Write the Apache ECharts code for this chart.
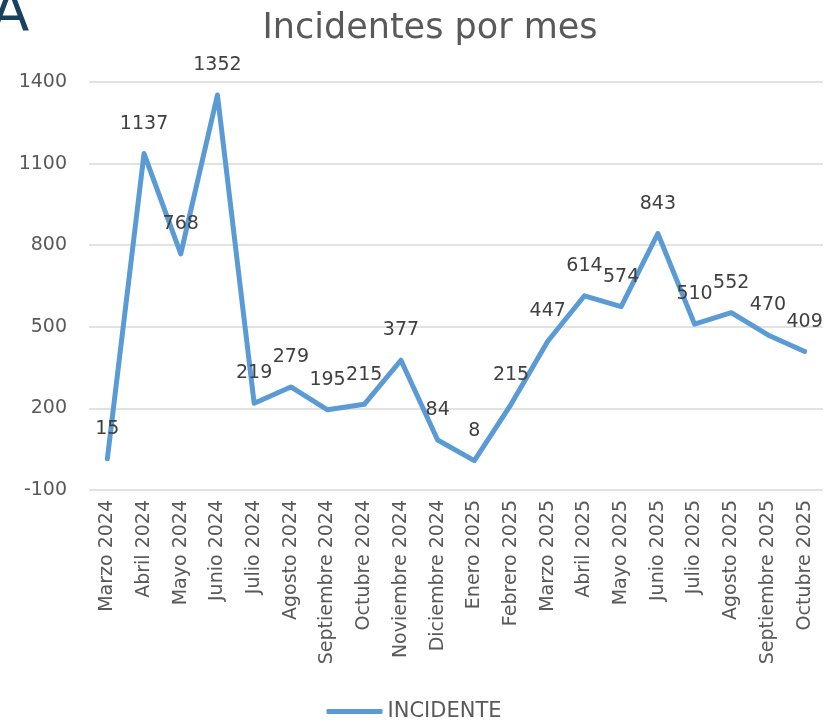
<!DOCTYPE html>
<html>
<head>
<meta charset="utf-8">
<script src="https://cdn.jsdelivr.net/npm/echarts@6/dist/echarts.min.js"></script>
<style>
  html, body { margin: 0; padding: 0; background: #fff; }
  #chart { width: 828px; height: 722px; }
</style>
</head>
<body>
<div id="chart"></div>
<script>
// Monthly incident counts
const months = [
  'Marzo 2024', 'Abril 2024', 'Mayo 2024', 'Junio 2024', 'Julio 2024',
  'Agosto 2024', 'Septiembre 2024', 'Octubre 2024', 'Noviembre 2024', 'Diciembre 2024',
  'Enero 2025', 'Febrero 2025', 'Marzo 2025', 'Abril 2025', 'Mayo 2025',
  'Junio 2025', 'Julio 2025', 'Agosto 2025', 'Septiembre 2025', 'Octubre 2025'
];
const incidentes = [15, 1137, 768, 1352, 219, 279, 195, 215, 377, 84, 8, 215, 447, 614, 574, 843, 510, 552, 470, 409];
const yMin = -100;
const yMax = 1400;
const yStep = 300;

const FONT = 'DejaVu Sans';
const GREY = '#595959';
const BLUE = '#5b9bd5';

const chart = echarts.init(document.getElementById('chart'), null, { renderer: 'canvas' });
chart.setOption({
  animation: false,
  backgroundColor: '#ffffff',
  title: {
    text: 'Incidentes por mes',
    left: 425,
    textAlign: 'center',
    top: 6,
    textStyle: { fontFamily: FONT, fontSize: 35, fontWeight: 'normal', color: GREY }
  },
  graphic: [{
    type: 'text',
    left: -9,
    top: -13,
    style: { text: 'A', font: '56px "DejaVu Sans"', fill: '#17415f' }
  }],
  legend: {
    bottom: -5,
    left: 'center',
    icon: 'roundRect',
    itemWidth: 56,
    itemHeight: 5,
    itemGap: 4,
    itemStyle: { color: BLUE, opacity: 1 },
    textStyle: { fontFamily: FONT, fontSize: 21, color: GREY },
    data: ['INCIDENTE']
  },
  grid: { left: 89, right: 5, top: 82, bottom: 232, containLabel: false },
  xAxis: {
    type: 'category',
    data: months,
    boundaryGap: true,
    axisLine: { show: false },
    axisTick: { show: false },
    axisLabel: {
      rotate: 90,
      interval: 0,
      margin: 10,
      fontFamily: FONT,
      fontSize: 19,
      color: GREY
    }
  },
  yAxis: {
    type: 'value',
    min: yMin,
    max: yMax,
    interval: yStep,
    axisLine: { show: false },
    axisTick: { show: false },
    splitLine: { lineStyle: { color: '#d9d9d9', width: 1.5 } },
    axisLabel: {
      fontFamily: FONT, fontSize: 19, color: GREY, margin: 22,
      formatter: function (v) { return String(v); }
    }
  },
  series: [{
    name: 'INCIDENTE',
    type: 'line',
    data: incidentes,
    showSymbol: true,
    showAllSymbol: true,
    symbol: 'circle',
    symbolSize: 0.5,
    lineStyle: { color: BLUE, width: 5, cap: 'round', join: 'round' },
    itemStyle: { color: BLUE },
    label: {
      show: true,
      position: 'top',
      distance: 20,
      fontFamily: FONT,
      fontSize: 19,
      color: '#404040'
    },
    labelLayout: { hideOverlap: false }
  }]
});
</script>
</body>
</html>
